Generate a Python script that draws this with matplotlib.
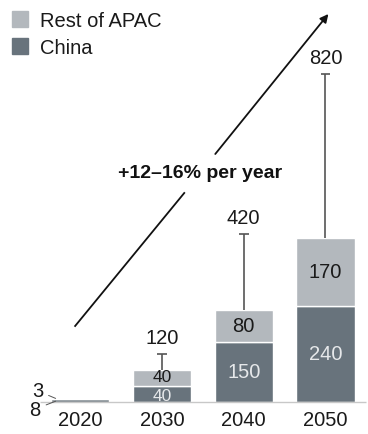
import matplotlib.pyplot as plt
from matplotlib.patches import Patch
import numpy as np

plt.rcParams['font.family'] = ['Liberation Sans', 'DejaVu Sans']

years = ['2020', '2030', '2040', '2050']
china = [8, 40, 150, 240]
rest_apac = [3, 40, 80, 170]
high = [None, 120, 420, 820]

c_china = '#68737c'
c_rest = '#b3b8bd'
txt = '#1a1a1a'
fs = 14.5

fig = plt.figure(figsize=(3.68, 4.35), dpi=100)
ax = fig.add_axes([0, 0, 1, 1])
ax.set_xlim(-0.98, 3.52)
ax.set_ylim(-80, 1007.5)
ax.axis('off')

x = np.arange(len(years))
w = 0.71
ax.bar(x, china, w, color=c_china, edgecolor='white', linewidth=1)
ax.bar(x, rest_apac, w, bottom=china, color=c_rest, edgecolor='white', linewidth=1)
ax.plot([-0.49, 3.49], [0, 0], color='#c8c8c8', lw=1, solid_capstyle='butt')

for i in range(len(years)):
    total = china[i] + rest_apac[i]
    ax.text(x[i], -45, years[i], ha='center', va='center', fontsize=fs, color=txt)
    if i == 0:
        ax.annotate(str(rest_apac[i]), xy=(x[i] - 0.3, total - 2), xytext=(x[i] - 0.52, 28),
                    ha='center', va='center', fontsize=fs, color=txt,
                    arrowprops=dict(arrowstyle='-', color='#555555', lw=0.7, shrinkA=2, shrinkB=0))
        ax.annotate(str(china[i]), xy=(x[i] - 0.3, 2), xytext=(x[i] - 0.55, -18),
                    ha='center', va='center', fontsize=fs, color=txt,
                    arrowprops=dict(arrowstyle='-', color='#555555', lw=0.7, shrinkA=2, shrinkB=0))
        continue
    # small segments get slightly smaller labels
    seg_fs = fs if china[i] > 60 else 12.5
    nudge = 0 if china[i] > 60 else 4
    ax.text(x[i], china[i] / 2 - nudge, str(china[i]), ha='center', va='center', fontsize=seg_fs,
            color='#e6e8ea')
    ax.text(x[i], china[i] + rest_apac[i] / 2 + nudge, str(rest_apac[i]), ha='center', va='center',
            fontsize=seg_fs, color=txt)
    ax.vlines(x[i], total, high[i], color='#555555', lw=1.2)
    ax.hlines(high[i], x[i] - 0.06, x[i] + 0.06, color='#555555', lw=1.2)
    ax.text(x[i], high[i] + 18, str(high[i]), ha='center', va='bottom', fontsize=fs, color=txt)

# growth arrow, broken around the label
def px(p):
    return ((p[0] - 80) / 81.7, (403 - p[1]) / 0.4)

ax.plot(*zip(px((75, 327)), px((184, 194))), color='#111111', lw=1.3)
ax.annotate('', xy=px((328, 15)), xytext=px((215, 155)),
            arrowprops=dict(arrowstyle='-|>', color='#111111', lw=1.3, mutation_scale=12,
                            shrinkA=0, shrinkB=0))
ax.text(*px((200, 173)), '+12\u201316% per year', ha='center', va='center', fontsize=14,
        fontweight='bold', color='#111111')

handles = [Patch(color=c_rest, label='Rest of APAC'), Patch(color=c_china, label='China')]
ax.legend(handles=handles, loc='upper left', bbox_to_anchor=(0.0, 1.0), frameon=False,
          fontsize=14.5, handlelength=0.8, handleheight=0.8, handletextpad=0.6,
          labelspacing=0.4, borderaxespad=0.2, labelcolor=txt)

fig.savefig('out.png', dpi=100)
